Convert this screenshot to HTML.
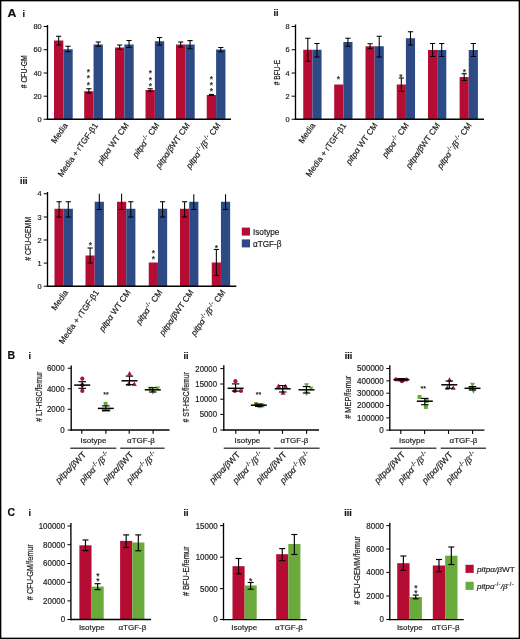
<!DOCTYPE html>
<html><head><meta charset="utf-8"><title>Figure</title>
<style>
html,body{margin:0;padding:0;background:#fff;}
body{width:520px;height:639px;overflow:hidden;font-family:"Liberation Sans",sans-serif;}
svg{display:block;font-family:"Liberation Sans",sans-serif;will-change:transform;}
</style></head><body>
<svg width="520" height="639" viewBox="0 0 520 639">
<rect x="0" y="0" width="520" height="639" fill="#fff"/>
<rect x="54" y="40.5" width="9.35" height="78.75" fill="#b50c34"/>
<rect x="63.35" y="49.25" width="9.35" height="70" fill="#2d4a86"/>
<line x1="58.67" y1="36.25" x2="58.67" y2="45" stroke="#000" stroke-width="1.05"/>
<line x1="56.07" y1="36.25" x2="61.27" y2="36.25" stroke="#000" stroke-width="1.05"/>
<line x1="56.07" y1="45" x2="61.27" y2="45" stroke="#000" stroke-width="1.05"/>
<line x1="68.03" y1="46.25" x2="68.03" y2="51.75" stroke="#000" stroke-width="1.05"/>
<line x1="65.43" y1="46.25" x2="70.62" y2="46.25" stroke="#000" stroke-width="1.05"/>
<line x1="65.43" y1="51.75" x2="70.62" y2="51.75" stroke="#000" stroke-width="1.05"/>
<rect x="84.2" y="91.25" width="9.35" height="28" fill="#b50c34"/>
<rect x="93.55" y="44.5" width="9.35" height="74.75" fill="#2d4a86"/>
<line x1="88.88" y1="88.75" x2="88.88" y2="93" stroke="#000" stroke-width="1.05"/>
<line x1="86.28" y1="88.75" x2="91.47" y2="88.75" stroke="#000" stroke-width="1.05"/>
<line x1="86.28" y1="93" x2="91.47" y2="93" stroke="#000" stroke-width="1.05"/>
<line x1="98.22" y1="42" x2="98.22" y2="46.25" stroke="#000" stroke-width="1.05"/>
<line x1="95.62" y1="42" x2="100.82" y2="42" stroke="#000" stroke-width="1.05"/>
<line x1="95.62" y1="46.25" x2="100.82" y2="46.25" stroke="#000" stroke-width="1.05"/>
<rect x="115" y="47.5" width="9.35" height="71.75" fill="#b50c34"/>
<rect x="124.35" y="44.5" width="9.35" height="74.75" fill="#2d4a86"/>
<line x1="119.67" y1="45" x2="119.67" y2="49.25" stroke="#000" stroke-width="1.05"/>
<line x1="117.08" y1="45" x2="122.27" y2="45" stroke="#000" stroke-width="1.05"/>
<line x1="117.08" y1="49.25" x2="122.27" y2="49.25" stroke="#000" stroke-width="1.05"/>
<line x1="129.03" y1="40.5" x2="129.03" y2="47.5" stroke="#000" stroke-width="1.05"/>
<line x1="126.43" y1="40.5" x2="131.62" y2="40.5" stroke="#000" stroke-width="1.05"/>
<line x1="126.43" y1="47.5" x2="131.62" y2="47.5" stroke="#000" stroke-width="1.05"/>
<rect x="145.5" y="90" width="9.35" height="29.25" fill="#b50c34"/>
<rect x="154.85" y="41.25" width="9.35" height="78" fill="#2d4a86"/>
<line x1="150.18" y1="88.75" x2="150.18" y2="91.25" stroke="#000" stroke-width="1.05"/>
<line x1="147.58" y1="88.75" x2="152.78" y2="88.75" stroke="#000" stroke-width="1.05"/>
<line x1="147.58" y1="91.25" x2="152.78" y2="91.25" stroke="#000" stroke-width="1.05"/>
<line x1="159.53" y1="37.5" x2="159.53" y2="45" stroke="#000" stroke-width="1.05"/>
<line x1="156.93" y1="37.5" x2="162.12" y2="37.5" stroke="#000" stroke-width="1.05"/>
<line x1="156.93" y1="45" x2="162.12" y2="45" stroke="#000" stroke-width="1.05"/>
<rect x="176" y="44.5" width="9.35" height="74.75" fill="#b50c34"/>
<rect x="185.35" y="44.5" width="9.35" height="74.75" fill="#2d4a86"/>
<line x1="180.68" y1="42" x2="180.68" y2="47" stroke="#000" stroke-width="1.05"/>
<line x1="178.08" y1="42" x2="183.28" y2="42" stroke="#000" stroke-width="1.05"/>
<line x1="178.08" y1="47" x2="183.28" y2="47" stroke="#000" stroke-width="1.05"/>
<line x1="190.03" y1="40.6" x2="190.03" y2="48.75" stroke="#000" stroke-width="1.05"/>
<line x1="187.43" y1="40.6" x2="192.62" y2="40.6" stroke="#000" stroke-width="1.05"/>
<line x1="187.43" y1="48.75" x2="192.62" y2="48.75" stroke="#000" stroke-width="1.05"/>
<rect x="206.75" y="95" width="9.35" height="24.25" fill="#b50c34"/>
<rect x="216.1" y="49.5" width="9.35" height="69.75" fill="#2d4a86"/>
<line x1="211.43" y1="94.4" x2="211.43" y2="95.4" stroke="#000" stroke-width="1.05"/>
<line x1="208.83" y1="94.4" x2="214.03" y2="94.4" stroke="#000" stroke-width="1.05"/>
<line x1="208.83" y1="95.4" x2="214.03" y2="95.4" stroke="#000" stroke-width="1.05"/>
<line x1="220.78" y1="47.5" x2="220.78" y2="51.75" stroke="#000" stroke-width="1.05"/>
<line x1="218.18" y1="47.5" x2="223.38" y2="47.5" stroke="#000" stroke-width="1.05"/>
<line x1="218.18" y1="51.75" x2="223.38" y2="51.75" stroke="#000" stroke-width="1.05"/>
<line x1="47.5" y1="25" x2="47.5" y2="119.9" stroke="#000" stroke-width="1.35"/>
<line x1="46.85" y1="119.25" x2="231" y2="119.25" stroke="#000" stroke-width="1.35"/>
<line x1="43.7" y1="26.5" x2="47.5" y2="26.5" stroke="#000" stroke-width="1.0"/>
<text x="41.7" y="29.16" font-size="7.4" text-anchor="end" fill="#1c1c1c" stroke="#1c1c1c" stroke-width="0.18">80</text>
<line x1="43.7" y1="49.75" x2="47.5" y2="49.75" stroke="#000" stroke-width="1.0"/>
<text x="41.7" y="52.41" font-size="7.4" text-anchor="end" fill="#1c1c1c" stroke="#1c1c1c" stroke-width="0.18">60</text>
<line x1="43.7" y1="73" x2="47.5" y2="73" stroke="#000" stroke-width="1.0"/>
<text x="41.7" y="75.66" font-size="7.4" text-anchor="end" fill="#1c1c1c" stroke="#1c1c1c" stroke-width="0.18">40</text>
<line x1="43.7" y1="96.2" x2="47.5" y2="96.2" stroke="#000" stroke-width="1.0"/>
<text x="41.7" y="98.86" font-size="7.4" text-anchor="end" fill="#1c1c1c" stroke="#1c1c1c" stroke-width="0.18">20</text>
<line x1="43.7" y1="119.25" x2="47.5" y2="119.25" stroke="#000" stroke-width="1.0"/>
<text x="41.7" y="121.91" font-size="7.4" text-anchor="end" fill="#1c1c1c" stroke="#1c1c1c" stroke-width="0.18">0</text>
<text transform="translate(26.6 71.8) rotate(-90)" font-size="8.6" text-anchor="middle" fill="#1c1c1c" stroke="#1c1c1c" stroke-width="0.18" textLength="33" lengthAdjust="spacingAndGlyphs"># CFU-GM</text>
<text x="88.5" y="74.6" font-size="8.5" text-anchor="middle" fill="#222" stroke="#222" stroke-width="0.18">*</text>
<text x="88.5" y="81.35" font-size="8.5" text-anchor="middle" fill="#222" stroke="#222" stroke-width="0.18">*</text>
<text x="88.5" y="87.6" font-size="8.5" text-anchor="middle" fill="#222" stroke="#222" stroke-width="0.18">*</text>
<text x="150.3" y="76.1" font-size="8.5" text-anchor="middle" fill="#222" stroke="#222" stroke-width="0.18">*</text>
<text x="150.3" y="82.6" font-size="8.5" text-anchor="middle" fill="#222" stroke="#222" stroke-width="0.18">*</text>
<text x="150.3" y="89.1" font-size="8.5" text-anchor="middle" fill="#222" stroke="#222" stroke-width="0.18">*</text>
<text x="211.3" y="82.1" font-size="8.5" text-anchor="middle" fill="#222" stroke="#222" stroke-width="0.18">*</text>
<text x="211.3" y="88.1" font-size="8.5" text-anchor="middle" fill="#222" stroke="#222" stroke-width="0.18">*</text>
<text x="211.3" y="94.1" font-size="8.5" text-anchor="middle" fill="#222" stroke="#222" stroke-width="0.18">*</text>
<text transform="translate(68.15 125.45) rotate(-55)" font-size="8.3" text-anchor="end" fill="#1c1c1c" stroke="#1c1c1c" stroke-width="0.18">Media</text>
<text transform="translate(98.35 125.45) rotate(-55)" font-size="8.3" text-anchor="end" fill="#1c1c1c" stroke="#1c1c1c" stroke-width="0.18">Media + rTGF-&#946;1</text>
<text transform="translate(129.15 125.45) rotate(-55)" font-size="8.3" text-anchor="end" fill="#1c1c1c" stroke="#1c1c1c" stroke-width="0.18"><tspan font-style="italic">pitp&#945;</tspan> WT CM</text>
<text transform="translate(159.65 125.45) rotate(-55)" font-size="8.3" text-anchor="end" fill="#1c1c1c" stroke="#1c1c1c" stroke-width="0.18"><tspan font-style="italic">pitp&#945;</tspan><tspan dx="0.8"></tspan><tspan font-size="5.98" dy="-3.32" letter-spacing="0.3">-/-</tspan><tspan dy="3.32"> CM</tspan></text>
<text transform="translate(190.15 125.45) rotate(-55)" font-size="8.3" text-anchor="end" fill="#1c1c1c" stroke="#1c1c1c" stroke-width="0.18"><tspan font-style="italic">pitp&#945;/&#946;</tspan>WT CM</text>
<text transform="translate(220.9 125.45) rotate(-55)" font-size="8.3" text-anchor="end" fill="#1c1c1c" stroke="#1c1c1c" stroke-width="0.18"><tspan font-style="italic">pitp&#945;</tspan><tspan font-size="5.98" dy="-3.32" letter-spacing="0.3">-/-</tspan><tspan dy="3.32" font-style="italic">/&#946;</tspan><tspan font-size="5.98" dy="-3.32" letter-spacing="0.3">-/-</tspan><tspan dy="3.32"> CM</tspan></text>
<text transform="translate(7.4 16.7) scale(1.17 1)" font-size="10.5" text-anchor="start" font-weight="bold" fill="#111" stroke="#111" stroke-width="0.18">A</text>
<text x="22.6" y="16.7" font-size="9" text-anchor="start" font-weight="bold" fill="#111" stroke="#111" stroke-width="0.18">i</text>
<rect x="303.25" y="49.75" width="9.15" height="69.5" fill="#b50c34"/>
<rect x="312.4" y="49.75" width="9.15" height="69.5" fill="#2d4a86"/>
<line x1="307.82" y1="38.25" x2="307.82" y2="61.25" stroke="#000" stroke-width="1.05"/>
<line x1="305.22" y1="38.25" x2="310.43" y2="38.25" stroke="#000" stroke-width="1.05"/>
<line x1="305.22" y1="61.25" x2="310.43" y2="61.25" stroke="#000" stroke-width="1.05"/>
<line x1="316.97" y1="43.5" x2="316.97" y2="57" stroke="#000" stroke-width="1.05"/>
<line x1="314.37" y1="43.5" x2="319.57" y2="43.5" stroke="#000" stroke-width="1.05"/>
<line x1="314.37" y1="57" x2="319.57" y2="57" stroke="#000" stroke-width="1.05"/>
<rect x="334.2" y="84.5" width="9.15" height="34.75" fill="#b50c34"/>
<rect x="343.35" y="42" width="9.15" height="77.25" fill="#2d4a86"/>
<line x1="347.92" y1="38.25" x2="347.92" y2="46.25" stroke="#000" stroke-width="1.05"/>
<line x1="345.32" y1="38.25" x2="350.52" y2="38.25" stroke="#000" stroke-width="1.05"/>
<line x1="345.32" y1="46.25" x2="350.52" y2="46.25" stroke="#000" stroke-width="1.05"/>
<rect x="365.5" y="46.25" width="9.15" height="73" fill="#b50c34"/>
<rect x="374.65" y="46.25" width="9.15" height="73" fill="#2d4a86"/>
<line x1="370.07" y1="43.75" x2="370.07" y2="48.75" stroke="#000" stroke-width="1.05"/>
<line x1="367.47" y1="43.75" x2="372.68" y2="43.75" stroke="#000" stroke-width="1.05"/>
<line x1="367.47" y1="48.75" x2="372.68" y2="48.75" stroke="#000" stroke-width="1.05"/>
<line x1="379.22" y1="36.25" x2="379.22" y2="57" stroke="#000" stroke-width="1.05"/>
<line x1="376.62" y1="36.25" x2="381.82" y2="36.25" stroke="#000" stroke-width="1.05"/>
<line x1="376.62" y1="57" x2="381.82" y2="57" stroke="#000" stroke-width="1.05"/>
<rect x="396.75" y="84.5" width="9.15" height="34.75" fill="#b50c34"/>
<rect x="405.9" y="38.25" width="9.15" height="81" fill="#2d4a86"/>
<line x1="401.32" y1="78" x2="401.32" y2="91.25" stroke="#000" stroke-width="1.05"/>
<line x1="398.72" y1="78" x2="403.93" y2="78" stroke="#000" stroke-width="1.05"/>
<line x1="398.72" y1="91.25" x2="403.93" y2="91.25" stroke="#000" stroke-width="1.05"/>
<line x1="410.47" y1="31.75" x2="410.47" y2="45" stroke="#000" stroke-width="1.05"/>
<line x1="407.87" y1="31.75" x2="413.07" y2="31.75" stroke="#000" stroke-width="1.05"/>
<line x1="407.87" y1="45" x2="413.07" y2="45" stroke="#000" stroke-width="1.05"/>
<rect x="428" y="50" width="9.15" height="69.25" fill="#b50c34"/>
<rect x="437.15" y="50" width="9.15" height="69.25" fill="#2d4a86"/>
<line x1="432.57" y1="43.5" x2="432.57" y2="56.5" stroke="#000" stroke-width="1.05"/>
<line x1="429.97" y1="43.5" x2="435.18" y2="43.5" stroke="#000" stroke-width="1.05"/>
<line x1="429.97" y1="56.5" x2="435.18" y2="56.5" stroke="#000" stroke-width="1.05"/>
<line x1="441.72" y1="43.5" x2="441.72" y2="56.5" stroke="#000" stroke-width="1.05"/>
<line x1="439.12" y1="43.5" x2="444.32" y2="43.5" stroke="#000" stroke-width="1.05"/>
<line x1="439.12" y1="56.5" x2="444.32" y2="56.5" stroke="#000" stroke-width="1.05"/>
<rect x="459.6" y="77" width="9.15" height="42.25" fill="#b50c34"/>
<rect x="468.75" y="50" width="9.15" height="69.25" fill="#2d4a86"/>
<line x1="464.18" y1="73.75" x2="464.18" y2="80.5" stroke="#000" stroke-width="1.05"/>
<line x1="461.57" y1="73.75" x2="466.78" y2="73.75" stroke="#000" stroke-width="1.05"/>
<line x1="461.57" y1="80.5" x2="466.78" y2="80.5" stroke="#000" stroke-width="1.05"/>
<line x1="473.32" y1="43.5" x2="473.32" y2="56.5" stroke="#000" stroke-width="1.05"/>
<line x1="470.72" y1="43.5" x2="475.93" y2="43.5" stroke="#000" stroke-width="1.05"/>
<line x1="470.72" y1="56.5" x2="475.93" y2="56.5" stroke="#000" stroke-width="1.05"/>
<line x1="295.5" y1="24.5" x2="295.5" y2="119.9" stroke="#000" stroke-width="1.35"/>
<line x1="294.85" y1="119.25" x2="484" y2="119.25" stroke="#000" stroke-width="1.35"/>
<line x1="291.7" y1="26.5" x2="295.5" y2="26.5" stroke="#000" stroke-width="1.0"/>
<text x="289.7" y="29.16" font-size="7.4" text-anchor="end" fill="#1c1c1c" stroke="#1c1c1c" stroke-width="0.18">8</text>
<line x1="291.7" y1="49.75" x2="295.5" y2="49.75" stroke="#000" stroke-width="1.0"/>
<text x="289.7" y="52.41" font-size="7.4" text-anchor="end" fill="#1c1c1c" stroke="#1c1c1c" stroke-width="0.18">6</text>
<line x1="291.7" y1="73" x2="295.5" y2="73" stroke="#000" stroke-width="1.0"/>
<text x="289.7" y="75.66" font-size="7.4" text-anchor="end" fill="#1c1c1c" stroke="#1c1c1c" stroke-width="0.18">4</text>
<line x1="291.7" y1="96.2" x2="295.5" y2="96.2" stroke="#000" stroke-width="1.0"/>
<text x="289.7" y="98.86" font-size="7.4" text-anchor="end" fill="#1c1c1c" stroke="#1c1c1c" stroke-width="0.18">2</text>
<line x1="291.7" y1="119.25" x2="295.5" y2="119.25" stroke="#000" stroke-width="1.0"/>
<text x="289.7" y="121.91" font-size="7.4" text-anchor="end" fill="#1c1c1c" stroke="#1c1c1c" stroke-width="0.18">0</text>
<text transform="translate(280 72.5) rotate(-90)" font-size="8.6" text-anchor="middle" fill="#1c1c1c" stroke="#1c1c1c" stroke-width="0.18" textLength="25.5" lengthAdjust="spacingAndGlyphs"># BFU-E</text>
<text x="338.5" y="82.1" font-size="8.5" text-anchor="middle" fill="#222" stroke="#222" stroke-width="0.18">*</text>
<text x="401" y="79.6" font-size="8.5" text-anchor="middle" fill="#222" stroke="#222" stroke-width="0.18">*</text>
<text x="464.3" y="75.1" font-size="8.5" text-anchor="middle" fill="#222" stroke="#222" stroke-width="0.18">*</text>
<text transform="translate(315.6 125.45) rotate(-55)" font-size="8.3" text-anchor="end" fill="#1c1c1c" stroke="#1c1c1c" stroke-width="0.18">Media</text>
<text transform="translate(346.55 125.45) rotate(-55)" font-size="8.3" text-anchor="end" fill="#1c1c1c" stroke="#1c1c1c" stroke-width="0.18">Media + rTGF-&#946;1</text>
<text transform="translate(377.85 125.45) rotate(-55)" font-size="8.3" text-anchor="end" fill="#1c1c1c" stroke="#1c1c1c" stroke-width="0.18"><tspan font-style="italic">pitp&#945;</tspan> WT CM</text>
<text transform="translate(409.1 125.45) rotate(-55)" font-size="8.3" text-anchor="end" fill="#1c1c1c" stroke="#1c1c1c" stroke-width="0.18"><tspan font-style="italic">pitp&#945;</tspan><tspan dx="0.8"></tspan><tspan font-size="5.98" dy="-3.32" letter-spacing="0.3">-/-</tspan><tspan dy="3.32"> CM</tspan></text>
<text transform="translate(440.35 125.45) rotate(-55)" font-size="8.3" text-anchor="end" fill="#1c1c1c" stroke="#1c1c1c" stroke-width="0.18"><tspan font-style="italic">pitp&#945;/&#946;</tspan>WT CM</text>
<text transform="translate(471.95 125.45) rotate(-55)" font-size="8.3" text-anchor="end" fill="#1c1c1c" stroke="#1c1c1c" stroke-width="0.18"><tspan font-style="italic">pitp&#945;</tspan><tspan font-size="5.98" dy="-3.32" letter-spacing="0.3">-/-</tspan><tspan dy="3.32" font-style="italic">/&#946;</tspan><tspan font-size="5.98" dy="-3.32" letter-spacing="0.3">-/-</tspan><tspan dy="3.32"> CM</tspan></text>
<text x="273.5" y="15.8" font-size="9" text-anchor="start" font-weight="bold" fill="#111" stroke="#111" stroke-width="0.18">ii</text>
<rect x="54.5" y="208.75" width="9.2" height="77.5" fill="#b50c34"/>
<rect x="63.7" y="208.75" width="9.2" height="77.5" fill="#2d4a86"/>
<line x1="59.1" y1="201.75" x2="59.1" y2="217" stroke="#000" stroke-width="1.05"/>
<line x1="56.5" y1="201.75" x2="61.7" y2="201.75" stroke="#000" stroke-width="1.05"/>
<line x1="56.5" y1="217" x2="61.7" y2="217" stroke="#000" stroke-width="1.05"/>
<line x1="68.3" y1="201.75" x2="68.3" y2="217" stroke="#000" stroke-width="1.05"/>
<line x1="65.7" y1="201.75" x2="70.9" y2="201.75" stroke="#000" stroke-width="1.05"/>
<line x1="65.7" y1="217" x2="70.9" y2="217" stroke="#000" stroke-width="1.05"/>
<rect x="85.5" y="255.5" width="9.2" height="30.75" fill="#b50c34"/>
<rect x="94.7" y="201.75" width="9.2" height="84.5" fill="#2d4a86"/>
<line x1="90.1" y1="248" x2="90.1" y2="263" stroke="#000" stroke-width="1.05"/>
<line x1="87.5" y1="248" x2="92.7" y2="248" stroke="#000" stroke-width="1.05"/>
<line x1="87.5" y1="263" x2="92.7" y2="263" stroke="#000" stroke-width="1.05"/>
<line x1="99.3" y1="193.75" x2="99.3" y2="209.5" stroke="#000" stroke-width="1.05"/>
<line x1="96.7" y1="209.5" x2="101.9" y2="209.5" stroke="#000" stroke-width="1.05"/>
<rect x="117" y="201.75" width="9.2" height="84.5" fill="#b50c34"/>
<rect x="126.2" y="208.75" width="9.2" height="77.5" fill="#2d4a86"/>
<line x1="121.6" y1="193.75" x2="121.6" y2="209.5" stroke="#000" stroke-width="1.05"/>
<line x1="119" y1="209.5" x2="124.2" y2="209.5" stroke="#000" stroke-width="1.05"/>
<line x1="130.8" y1="201.75" x2="130.8" y2="217" stroke="#000" stroke-width="1.05"/>
<line x1="128.2" y1="201.75" x2="133.4" y2="201.75" stroke="#000" stroke-width="1.05"/>
<line x1="128.2" y1="217" x2="133.4" y2="217" stroke="#000" stroke-width="1.05"/>
<rect x="148.75" y="262.5" width="9.2" height="23.75" fill="#b50c34"/>
<rect x="157.95" y="208.75" width="9.2" height="77.5" fill="#2d4a86"/>
<line x1="162.55" y1="201.75" x2="162.55" y2="217" stroke="#000" stroke-width="1.05"/>
<line x1="159.95" y1="201.75" x2="165.15" y2="201.75" stroke="#000" stroke-width="1.05"/>
<line x1="159.95" y1="217" x2="165.15" y2="217" stroke="#000" stroke-width="1.05"/>
<rect x="180" y="208.75" width="9.2" height="77.5" fill="#b50c34"/>
<rect x="189.2" y="201.75" width="9.2" height="84.5" fill="#2d4a86"/>
<line x1="184.6" y1="201.75" x2="184.6" y2="217" stroke="#000" stroke-width="1.05"/>
<line x1="182" y1="201.75" x2="187.2" y2="201.75" stroke="#000" stroke-width="1.05"/>
<line x1="182" y1="217" x2="187.2" y2="217" stroke="#000" stroke-width="1.05"/>
<line x1="193.8" y1="194.25" x2="193.8" y2="209.5" stroke="#000" stroke-width="1.05"/>
<line x1="191.2" y1="209.5" x2="196.4" y2="209.5" stroke="#000" stroke-width="1.05"/>
<rect x="211.75" y="262.5" width="9.2" height="23.75" fill="#b50c34"/>
<rect x="220.95" y="201.75" width="9.2" height="84.5" fill="#2d4a86"/>
<line x1="216.35" y1="249.5" x2="216.35" y2="275.5" stroke="#000" stroke-width="1.05"/>
<line x1="213.75" y1="249.5" x2="218.95" y2="249.5" stroke="#000" stroke-width="1.05"/>
<line x1="213.75" y1="275.5" x2="218.95" y2="275.5" stroke="#000" stroke-width="1.05"/>
<line x1="225.55" y1="194.25" x2="225.55" y2="209.5" stroke="#000" stroke-width="1.05"/>
<line x1="222.95" y1="209.5" x2="228.15" y2="209.5" stroke="#000" stroke-width="1.05"/>
<line x1="47.5" y1="192" x2="47.5" y2="286.9" stroke="#000" stroke-width="1.35"/>
<line x1="46.85" y1="286.25" x2="236.3" y2="286.25" stroke="#000" stroke-width="1.35"/>
<line x1="43.7" y1="193.75" x2="47.5" y2="193.75" stroke="#000" stroke-width="1.0"/>
<text x="41.7" y="196.41" font-size="7.4" text-anchor="end" fill="#1c1c1c" stroke="#1c1c1c" stroke-width="0.18">4</text>
<line x1="43.7" y1="217" x2="47.5" y2="217" stroke="#000" stroke-width="1.0"/>
<text x="41.7" y="219.66" font-size="7.4" text-anchor="end" fill="#1c1c1c" stroke="#1c1c1c" stroke-width="0.18">3</text>
<line x1="43.7" y1="240" x2="47.5" y2="240" stroke="#000" stroke-width="1.0"/>
<text x="41.7" y="242.66" font-size="7.4" text-anchor="end" fill="#1c1c1c" stroke="#1c1c1c" stroke-width="0.18">2</text>
<line x1="43.7" y1="263.1" x2="47.5" y2="263.1" stroke="#000" stroke-width="1.0"/>
<text x="41.7" y="265.76" font-size="7.4" text-anchor="end" fill="#1c1c1c" stroke="#1c1c1c" stroke-width="0.18">1</text>
<line x1="43.7" y1="286.25" x2="47.5" y2="286.25" stroke="#000" stroke-width="1.0"/>
<text x="41.7" y="288.91" font-size="7.4" text-anchor="end" fill="#1c1c1c" stroke="#1c1c1c" stroke-width="0.18">0</text>
<text transform="translate(31.2 238.8) rotate(-90)" font-size="8.9" text-anchor="middle" fill="#1c1c1c" stroke="#1c1c1c" stroke-width="0.18" textLength="44" lengthAdjust="spacingAndGlyphs"># CFU-GEMM</text>
<text x="90.5" y="247.6" font-size="8.5" text-anchor="middle" fill="#222" stroke="#222" stroke-width="0.18">*</text>
<text x="153.3" y="255.85" font-size="8.5" text-anchor="middle" fill="#222" stroke="#222" stroke-width="0.18">*</text>
<text x="153.3" y="262.1" font-size="8.5" text-anchor="middle" fill="#222" stroke="#222" stroke-width="0.18">*</text>
<text x="216.5" y="250.6" font-size="8.5" text-anchor="middle" fill="#222" stroke="#222" stroke-width="0.18">*</text>
<text transform="translate(68.5 292.45) rotate(-55)" font-size="8.3" text-anchor="end" fill="#1c1c1c" stroke="#1c1c1c" stroke-width="0.18">Media</text>
<text transform="translate(99.5 292.45) rotate(-55)" font-size="8.3" text-anchor="end" fill="#1c1c1c" stroke="#1c1c1c" stroke-width="0.18">Media + rTGF-&#946;1</text>
<text transform="translate(131 292.45) rotate(-55)" font-size="8.3" text-anchor="end" fill="#1c1c1c" stroke="#1c1c1c" stroke-width="0.18"><tspan font-style="italic">pitp&#945;</tspan> WT CM</text>
<text transform="translate(162.75 292.45) rotate(-55)" font-size="8.3" text-anchor="end" fill="#1c1c1c" stroke="#1c1c1c" stroke-width="0.18"><tspan font-style="italic">pitp&#945;</tspan><tspan dx="0.8"></tspan><tspan font-size="5.98" dy="-3.32" letter-spacing="0.3">-/-</tspan><tspan dy="3.32"> CM</tspan></text>
<text transform="translate(194 292.45) rotate(-55)" font-size="8.3" text-anchor="end" fill="#1c1c1c" stroke="#1c1c1c" stroke-width="0.18"><tspan font-style="italic">pitp&#945;/&#946;</tspan>WT CM</text>
<text transform="translate(225.75 292.45) rotate(-55)" font-size="8.3" text-anchor="end" fill="#1c1c1c" stroke="#1c1c1c" stroke-width="0.18"><tspan font-style="italic">pitp&#945;</tspan><tspan font-size="5.98" dy="-3.32" letter-spacing="0.3">-/-</tspan><tspan dy="3.32" font-style="italic">/&#946;</tspan><tspan font-size="5.98" dy="-3.32" letter-spacing="0.3">-/-</tspan><tspan dy="3.32"> CM</tspan></text>
<text x="20" y="183.8" font-size="9" text-anchor="start" font-weight="bold" fill="#111" stroke="#111" stroke-width="0.18">iii</text>
<rect x="241.8" y="227.6" width="8.2" height="8" fill="#b50c34"/>
<rect x="241.8" y="239.4" width="8.2" height="8" fill="#2d4a86"/>
<text x="253" y="234.6" font-size="8.2" text-anchor="start" fill="#1c1c1c" stroke="#1c1c1c" stroke-width="0.18">Isotype</text>
<text x="253" y="246.5" font-size="8.2" text-anchor="start" fill="#1c1c1c" stroke="#1c1c1c" stroke-width="0.18">&#945;TGF-&#946;</text>
<line x1="71.2" y1="365.5" x2="71.2" y2="430.65" stroke="#000" stroke-width="1.35"/>
<line x1="70.55" y1="430" x2="169.5" y2="430" stroke="#000" stroke-width="1.35"/>
<line x1="67.7" y1="368.25" x2="71.2" y2="368.25" stroke="#000" stroke-width="1.0"/>
<text transform="translate(64.6 371.24) scale(0.96 1)" font-size="8.3" text-anchor="end" fill="#1c1c1c" stroke="#1c1c1c" stroke-width="0.18">6000</text>
<line x1="67.7" y1="388.75" x2="71.2" y2="388.75" stroke="#000" stroke-width="1.0"/>
<text transform="translate(64.6 391.74) scale(0.96 1)" font-size="8.3" text-anchor="end" fill="#1c1c1c" stroke="#1c1c1c" stroke-width="0.18">4000</text>
<line x1="67.7" y1="409.3" x2="71.2" y2="409.3" stroke="#000" stroke-width="1.0"/>
<text transform="translate(64.6 412.29) scale(0.96 1)" font-size="8.3" text-anchor="end" fill="#1c1c1c" stroke="#1c1c1c" stroke-width="0.18">2000</text>
<line x1="67.7" y1="430" x2="71.2" y2="430" stroke="#000" stroke-width="1.0"/>
<text transform="translate(64.6 432.99) scale(0.96 1)" font-size="8.3" text-anchor="end" fill="#1c1c1c" stroke="#1c1c1c" stroke-width="0.18">0</text>
<line x1="81.8" y1="430" x2="81.8" y2="433.8" stroke="#000" stroke-width="1.1"/>
<line x1="105.9" y1="430" x2="105.9" y2="433.8" stroke="#000" stroke-width="1.1"/>
<line x1="129.2" y1="430" x2="129.2" y2="433.8" stroke="#000" stroke-width="1.1"/>
<line x1="153.1" y1="430" x2="153.1" y2="433.8" stroke="#000" stroke-width="1.1"/>
<text x="93.5" y="443.3" font-size="8" text-anchor="middle" fill="#1c1c1c" stroke="#1c1c1c" stroke-width="0.18">Isotype</text>
<text x="141" y="443.3" font-size="8" text-anchor="middle" fill="#1c1c1c" stroke="#1c1c1c" stroke-width="0.18">&#945;TGF-&#946;</text>
<line x1="70.3" y1="448.2" x2="116.3" y2="448.2" stroke="#4a4a4a" stroke-width="1.4"/>
<line x1="120.2" y1="448.2" x2="164.6" y2="448.2" stroke="#4a4a4a" stroke-width="1.4"/>
<text transform="translate(86.6 455.2) rotate(-46)" font-size="8.7" text-anchor="end" fill="#1c1c1c" stroke="#1c1c1c" stroke-width="0.18"><tspan font-style="italic">pitp&#945;/&#946;</tspan>WT</text>
<text transform="translate(110.7 455.2) rotate(-46)" font-size="8.7" text-anchor="end" fill="#1c1c1c" stroke="#1c1c1c" stroke-width="0.18"><tspan font-style="italic">pitp&#945;</tspan><tspan font-size="6.26" dy="-3.48" letter-spacing="0.3">-/-</tspan><tspan dy="3.48" font-style="italic">/&#946;</tspan><tspan font-size="6.26" dy="-3.48" letter-spacing="0.3">-/-</tspan></text>
<text transform="translate(134 455.2) rotate(-46)" font-size="8.7" text-anchor="end" fill="#1c1c1c" stroke="#1c1c1c" stroke-width="0.18"><tspan font-style="italic">pitp&#945;/&#946;</tspan>WT</text>
<text transform="translate(157.9 455.2) rotate(-46)" font-size="8.7" text-anchor="end" fill="#1c1c1c" stroke="#1c1c1c" stroke-width="0.18"><tspan font-style="italic">pitp&#945;</tspan><tspan font-size="6.26" dy="-3.48" letter-spacing="0.3">-/-</tspan><tspan dy="3.48" font-style="italic">/&#946;</tspan><tspan font-size="6.26" dy="-3.48" letter-spacing="0.3">-/-</tspan></text>
<text transform="translate(41.8 396.7) rotate(-90)" font-size="8.5" text-anchor="middle" fill="#1c1c1c" stroke="#1c1c1c" stroke-width="0.18" textLength="50" lengthAdjust="spacingAndGlyphs"># LT-HSC/femur</text>
<circle cx="82.3" cy="378.7" r="2.1" fill="#a3164a"/>
<circle cx="82.3" cy="385.1" r="2.1" fill="#a3164a"/>
<circle cx="82.3" cy="390.9" r="2.1" fill="#a3164a"/>
<line x1="74.2" y1="385.1" x2="90.2" y2="385.1" stroke="#000" stroke-width="1.5"/>
<line x1="82.2" y1="381.7" x2="82.2" y2="388.3" stroke="#000" stroke-width="1.15"/>
<line x1="78.45" y1="381.7" x2="85.95" y2="381.7" stroke="#000" stroke-width="1.15"/>
<line x1="78.45" y1="388.3" x2="85.95" y2="388.3" stroke="#000" stroke-width="1.15"/>
<rect x="103.65" y="401.85" width="3.9" height="3.9" fill="#69aa3b"/>
<rect x="101.85" y="407.85" width="3.9" height="3.9" fill="#69aa3b"/>
<rect x="106.45" y="407.85" width="3.9" height="3.9" fill="#69aa3b"/>
<line x1="97.8" y1="408.4" x2="113.8" y2="408.4" stroke="#000" stroke-width="1.5"/>
<line x1="105.8" y1="405.9" x2="105.8" y2="410.6" stroke="#000" stroke-width="1.15"/>
<line x1="102.05" y1="405.9" x2="109.55" y2="405.9" stroke="#000" stroke-width="1.15"/>
<line x1="102.05" y1="410.6" x2="109.55" y2="410.6" stroke="#000" stroke-width="1.15"/>
<text x="106" y="397" font-size="7" text-anchor="middle" fill="#1c1c1c" stroke="#1c1c1c" stroke-width="0.18">**</text>
<polygon points="129.6,370.9 127.1,375.4 132.1,375.4" fill="#a3164a"/>
<polygon points="128.6,381.6 126.1,386.1 131.1,386.1" fill="#a3164a"/>
<polygon points="134.3,381.6 131.8,386.1 136.8,386.1" fill="#a3164a"/>
<line x1="121.5" y1="380.8" x2="137.5" y2="380.8" stroke="#000" stroke-width="1.5"/>
<line x1="129.5" y1="376.1" x2="129.5" y2="384.5" stroke="#000" stroke-width="1.15"/>
<line x1="125.75" y1="376.1" x2="133.25" y2="376.1" stroke="#000" stroke-width="1.15"/>
<line x1="125.75" y1="384.5" x2="133.25" y2="384.5" stroke="#000" stroke-width="1.15"/>
<polygon points="149.9,391.3 147.4,386.8 152.4,386.8" fill="#69aa3b"/>
<polygon points="157.6,390.9 155.1,386.4 160.1,386.4" fill="#69aa3b"/>
<polygon points="152.9,394.7 150.4,390.2 155.4,390.2" fill="#69aa3b"/>
<line x1="144.8" y1="389.8" x2="160.8" y2="389.8" stroke="#000" stroke-width="1.5"/>
<line x1="152.8" y1="387.7" x2="152.8" y2="392" stroke="#000" stroke-width="1.15"/>
<line x1="149.05" y1="387.7" x2="156.55" y2="387.7" stroke="#000" stroke-width="1.15"/>
<line x1="149.05" y1="392" x2="156.55" y2="392" stroke="#000" stroke-width="1.15"/>
<text x="7.5" y="358.8" font-size="10.5" text-anchor="start" font-weight="bold" fill="#111" stroke="#111" stroke-width="0.18">B</text>
<text x="28.5" y="358.8" font-size="9" text-anchor="start" font-weight="bold" fill="#111" stroke="#111" stroke-width="0.18">i</text>
<line x1="223.8" y1="365.3" x2="223.8" y2="430.65" stroke="#000" stroke-width="1.35"/>
<line x1="223.15" y1="430" x2="319" y2="430" stroke="#000" stroke-width="1.35"/>
<line x1="220.3" y1="368.6" x2="223.8" y2="368.6" stroke="#000" stroke-width="1.0"/>
<text transform="translate(217 371.59) scale(0.94 1)" font-size="8.3" text-anchor="end" fill="#1c1c1c" stroke="#1c1c1c" stroke-width="0.18">20000</text>
<line x1="220.3" y1="384" x2="223.8" y2="384" stroke="#000" stroke-width="1.0"/>
<text transform="translate(217 386.99) scale(0.94 1)" font-size="8.3" text-anchor="end" fill="#1c1c1c" stroke="#1c1c1c" stroke-width="0.18">15000</text>
<line x1="220.3" y1="399.2" x2="223.8" y2="399.2" stroke="#000" stroke-width="1.0"/>
<text transform="translate(217 402.19) scale(0.94 1)" font-size="8.3" text-anchor="end" fill="#1c1c1c" stroke="#1c1c1c" stroke-width="0.18">10000</text>
<line x1="220.3" y1="414.4" x2="223.8" y2="414.4" stroke="#000" stroke-width="1.0"/>
<text transform="translate(217 417.39) scale(0.94 1)" font-size="8.3" text-anchor="end" fill="#1c1c1c" stroke="#1c1c1c" stroke-width="0.18">5000</text>
<line x1="220.3" y1="430" x2="223.8" y2="430" stroke="#000" stroke-width="1.0"/>
<text transform="translate(217 432.99) scale(0.94 1)" font-size="8.3" text-anchor="end" fill="#1c1c1c" stroke="#1c1c1c" stroke-width="0.18">0</text>
<line x1="235.8" y1="430" x2="235.8" y2="433.8" stroke="#000" stroke-width="1.1"/>
<line x1="259.3" y1="430" x2="259.3" y2="433.8" stroke="#000" stroke-width="1.1"/>
<line x1="282.5" y1="430" x2="282.5" y2="433.8" stroke="#000" stroke-width="1.1"/>
<line x1="306.6" y1="430" x2="306.6" y2="433.8" stroke="#000" stroke-width="1.1"/>
<text x="247.4" y="443.3" font-size="8" text-anchor="middle" fill="#1c1c1c" stroke="#1c1c1c" stroke-width="0.18">Isotype</text>
<text x="294.5" y="443.3" font-size="8" text-anchor="middle" fill="#1c1c1c" stroke="#1c1c1c" stroke-width="0.18">&#945;TGF-&#946;</text>
<line x1="223.7" y1="448.2" x2="270.4" y2="448.2" stroke="#4a4a4a" stroke-width="1.4"/>
<line x1="273.8" y1="448.2" x2="319.6" y2="448.2" stroke="#4a4a4a" stroke-width="1.4"/>
<text transform="translate(240.6 455.2) rotate(-46)" font-size="8.7" text-anchor="end" fill="#1c1c1c" stroke="#1c1c1c" stroke-width="0.18"><tspan font-style="italic">pitp&#945;/&#946;</tspan>WT</text>
<text transform="translate(264.1 455.2) rotate(-46)" font-size="8.7" text-anchor="end" fill="#1c1c1c" stroke="#1c1c1c" stroke-width="0.18"><tspan font-style="italic">pitp&#945;</tspan><tspan font-size="6.26" dy="-3.48" letter-spacing="0.3">-/-</tspan><tspan dy="3.48" font-style="italic">/&#946;</tspan><tspan font-size="6.26" dy="-3.48" letter-spacing="0.3">-/-</tspan></text>
<text transform="translate(287.3 455.2) rotate(-46)" font-size="8.7" text-anchor="end" fill="#1c1c1c" stroke="#1c1c1c" stroke-width="0.18"><tspan font-style="italic">pitp&#945;/&#946;</tspan>WT</text>
<text transform="translate(311.4 455.2) rotate(-46)" font-size="8.7" text-anchor="end" fill="#1c1c1c" stroke="#1c1c1c" stroke-width="0.18"><tspan font-style="italic">pitp&#945;</tspan><tspan font-size="6.26" dy="-3.48" letter-spacing="0.3">-/-</tspan><tspan dy="3.48" font-style="italic">/&#946;</tspan><tspan font-size="6.26" dy="-3.48" letter-spacing="0.3">-/-</tspan></text>
<text transform="translate(188.5 397.3) rotate(-90)" font-size="8.5" text-anchor="middle" fill="#1c1c1c" stroke="#1c1c1c" stroke-width="0.18" textLength="50.5" lengthAdjust="spacingAndGlyphs"># ST-HSC/femur</text>
<circle cx="235.4" cy="381.2" r="2.1" fill="#a3164a"/>
<circle cx="234.8" cy="391" r="2.1" fill="#a3164a"/>
<circle cx="241" cy="391" r="2.1" fill="#a3164a"/>
<line x1="227.6" y1="388.3" x2="243.6" y2="388.3" stroke="#000" stroke-width="1.5"/>
<line x1="235.6" y1="383.9" x2="235.6" y2="391.1" stroke="#000" stroke-width="1.15"/>
<line x1="231.85" y1="383.9" x2="239.35" y2="383.9" stroke="#000" stroke-width="1.15"/>
<line x1="231.85" y1="391.1" x2="239.35" y2="391.1" stroke="#000" stroke-width="1.15"/>
<rect x="254.05" y="402.05" width="3.9" height="3.9" fill="#69aa3b"/>
<rect x="257.55" y="404.25" width="3.9" height="3.9" fill="#69aa3b"/>
<rect x="260.55" y="403.55" width="3.9" height="3.9" fill="#69aa3b"/>
<line x1="250.8" y1="405.2" x2="266.8" y2="405.2" stroke="#000" stroke-width="1.5"/>
<line x1="258.8" y1="404" x2="258.8" y2="406.4" stroke="#000" stroke-width="1.15"/>
<line x1="255.05" y1="404" x2="262.55" y2="404" stroke="#000" stroke-width="1.15"/>
<line x1="255.05" y1="406.4" x2="262.55" y2="406.4" stroke="#000" stroke-width="1.15"/>
<text x="258.6" y="396.8" font-size="7" text-anchor="middle" fill="#1c1c1c" stroke="#1c1c1c" stroke-width="0.18">**</text>
<polygon points="278.5,383.6 276,388.1 281,388.1" fill="#a3164a"/>
<polygon points="285.5,383.8 283,388.3 288,388.3" fill="#a3164a"/>
<polygon points="283,390.3 280.5,394.8 285.5,394.8" fill="#a3164a"/>
<line x1="274.7" y1="388.8" x2="290.7" y2="388.8" stroke="#000" stroke-width="1.5"/>
<line x1="282.7" y1="385.6" x2="282.7" y2="392" stroke="#000" stroke-width="1.15"/>
<line x1="278.95" y1="385.6" x2="286.45" y2="385.6" stroke="#000" stroke-width="1.15"/>
<line x1="278.95" y1="392" x2="286.45" y2="392" stroke="#000" stroke-width="1.15"/>
<polygon points="306.5,387.7 304,383.2 309,383.2" fill="#69aa3b"/>
<polygon points="311,390.9 308.5,386.4 313.5,386.4" fill="#69aa3b"/>
<polygon points="306.5,395.9 304,391.4 309,391.4" fill="#69aa3b"/>
<line x1="298.5" y1="389.8" x2="314.5" y2="389.8" stroke="#000" stroke-width="1.5"/>
<line x1="306.5" y1="386.6" x2="306.5" y2="393" stroke="#000" stroke-width="1.15"/>
<line x1="302.75" y1="386.6" x2="310.25" y2="386.6" stroke="#000" stroke-width="1.15"/>
<line x1="302.75" y1="393" x2="310.25" y2="393" stroke="#000" stroke-width="1.15"/>
<text x="183.5" y="358.8" font-size="9" text-anchor="start" font-weight="bold" fill="#111" stroke="#111" stroke-width="0.18">ii</text>
<line x1="389.8" y1="365.2" x2="389.8" y2="430.75" stroke="#000" stroke-width="1.35"/>
<line x1="389.15" y1="430.1" x2="484.5" y2="430.1" stroke="#000" stroke-width="1.35"/>
<line x1="386.3" y1="368.5" x2="389.8" y2="368.5" stroke="#000" stroke-width="1.0"/>
<text transform="translate(383.8 371.49) scale(0.97 1)" font-size="8.3" text-anchor="end" fill="#1c1c1c" stroke="#1c1c1c" stroke-width="0.18">500000</text>
<line x1="386.3" y1="380.9" x2="389.8" y2="380.9" stroke="#000" stroke-width="1.0"/>
<text transform="translate(383.8 383.89) scale(0.97 1)" font-size="8.3" text-anchor="end" fill="#1c1c1c" stroke="#1c1c1c" stroke-width="0.18">400000</text>
<line x1="386.3" y1="393.2" x2="389.8" y2="393.2" stroke="#000" stroke-width="1.0"/>
<text transform="translate(383.8 396.19) scale(0.97 1)" font-size="8.3" text-anchor="end" fill="#1c1c1c" stroke="#1c1c1c" stroke-width="0.18">300000</text>
<line x1="386.3" y1="405.5" x2="389.8" y2="405.5" stroke="#000" stroke-width="1.0"/>
<text transform="translate(383.8 408.49) scale(0.97 1)" font-size="8.3" text-anchor="end" fill="#1c1c1c" stroke="#1c1c1c" stroke-width="0.18">200000</text>
<line x1="386.3" y1="417.9" x2="389.8" y2="417.9" stroke="#000" stroke-width="1.0"/>
<text transform="translate(383.8 420.89) scale(0.97 1)" font-size="8.3" text-anchor="end" fill="#1c1c1c" stroke="#1c1c1c" stroke-width="0.18">100000</text>
<line x1="386.3" y1="430.1" x2="389.8" y2="430.1" stroke="#000" stroke-width="1.0"/>
<text transform="translate(383.8 433.09) scale(0.97 1)" font-size="8.3" text-anchor="end" fill="#1c1c1c" stroke="#1c1c1c" stroke-width="0.18">0</text>
<line x1="400.8" y1="430.1" x2="400.8" y2="433.9" stroke="#000" stroke-width="1.1"/>
<line x1="424.6" y1="430.1" x2="424.6" y2="433.9" stroke="#000" stroke-width="1.1"/>
<line x1="448.5" y1="430.1" x2="448.5" y2="433.9" stroke="#000" stroke-width="1.1"/>
<line x1="472.6" y1="430.1" x2="472.6" y2="433.9" stroke="#000" stroke-width="1.1"/>
<text x="412" y="443.4" font-size="8" text-anchor="middle" fill="#1c1c1c" stroke="#1c1c1c" stroke-width="0.18">Isotype</text>
<text x="463.5" y="443.4" font-size="8" text-anchor="middle" fill="#1c1c1c" stroke="#1c1c1c" stroke-width="0.18">&#945;TGF-&#946;</text>
<line x1="390.2" y1="448.3" x2="436.4" y2="448.3" stroke="#4a4a4a" stroke-width="1.4"/>
<line x1="440.7" y1="448.3" x2="486" y2="448.3" stroke="#4a4a4a" stroke-width="1.4"/>
<text transform="translate(405.6 455.3) rotate(-46)" font-size="8.7" text-anchor="end" fill="#1c1c1c" stroke="#1c1c1c" stroke-width="0.18"><tspan font-style="italic">pitp&#945;/&#946;</tspan>WT</text>
<text transform="translate(429.4 455.3) rotate(-46)" font-size="8.7" text-anchor="end" fill="#1c1c1c" stroke="#1c1c1c" stroke-width="0.18"><tspan font-style="italic">pitp&#945;</tspan><tspan font-size="6.26" dy="-3.48" letter-spacing="0.3">-/-</tspan><tspan dy="3.48" font-style="italic">/&#946;</tspan><tspan font-size="6.26" dy="-3.48" letter-spacing="0.3">-/-</tspan></text>
<text transform="translate(453.3 455.3) rotate(-46)" font-size="8.7" text-anchor="end" fill="#1c1c1c" stroke="#1c1c1c" stroke-width="0.18"><tspan font-style="italic">pitp&#945;/&#946;</tspan>WT</text>
<text transform="translate(477.4 455.3) rotate(-46)" font-size="8.7" text-anchor="end" fill="#1c1c1c" stroke="#1c1c1c" stroke-width="0.18"><tspan font-style="italic">pitp&#945;</tspan><tspan font-size="6.26" dy="-3.48" letter-spacing="0.3">-/-</tspan><tspan dy="3.48" font-style="italic">/&#946;</tspan><tspan font-size="6.26" dy="-3.48" letter-spacing="0.3">-/-</tspan></text>
<text transform="translate(350.8 397.3) rotate(-90)" font-size="8.5" text-anchor="middle" fill="#1c1c1c" stroke="#1c1c1c" stroke-width="0.18" textLength="43" lengthAdjust="spacingAndGlyphs"># MEP/femur</text>
<circle cx="396" cy="379.4" r="2.1" fill="#a3164a"/>
<circle cx="402" cy="381.2" r="2.1" fill="#a3164a"/>
<circle cx="406.5" cy="379.6" r="2.1" fill="#a3164a"/>
<line x1="393.4" y1="379.7" x2="409.4" y2="379.7" stroke="#000" stroke-width="1.5"/>
<line x1="401.4" y1="378.6" x2="401.4" y2="380.8" stroke="#000" stroke-width="1.15"/>
<line x1="397.65" y1="378.6" x2="405.15" y2="378.6" stroke="#000" stroke-width="1.15"/>
<line x1="397.65" y1="380.8" x2="405.15" y2="380.8" stroke="#000" stroke-width="1.15"/>
<rect x="417.55" y="395.05" width="3.9" height="3.9" fill="#69aa3b"/>
<rect x="424.75" y="399.05" width="3.9" height="3.9" fill="#69aa3b"/>
<rect x="423.95" y="405.05" width="3.9" height="3.9" fill="#69aa3b"/>
<line x1="416.8" y1="401.2" x2="432.8" y2="401.2" stroke="#000" stroke-width="1.5"/>
<line x1="424.8" y1="398.4" x2="424.8" y2="404.7" stroke="#000" stroke-width="1.15"/>
<line x1="421.05" y1="398.4" x2="428.55" y2="398.4" stroke="#000" stroke-width="1.15"/>
<line x1="421.05" y1="404.7" x2="428.55" y2="404.7" stroke="#000" stroke-width="1.15"/>
<text x="423.2" y="390.8" font-size="7" text-anchor="middle" fill="#1c1c1c" stroke="#1c1c1c" stroke-width="0.18">**</text>
<polygon points="449.5,377.3 447,381.8 452,381.8" fill="#a3164a"/>
<polygon points="447.3,385.3 444.8,389.8 449.8,389.8" fill="#a3164a"/>
<polygon points="453.3,385.3 450.8,389.8 455.8,389.8" fill="#a3164a"/>
<line x1="441.3" y1="384.8" x2="457.3" y2="384.8" stroke="#000" stroke-width="1.5"/>
<line x1="449.3" y1="381" x2="449.3" y2="388.3" stroke="#000" stroke-width="1.15"/>
<line x1="445.55" y1="381" x2="453.05" y2="381" stroke="#000" stroke-width="1.15"/>
<line x1="445.55" y1="388.3" x2="453.05" y2="388.3" stroke="#000" stroke-width="1.15"/>
<polygon points="472.5,387.2 470,382.7 475,382.7" fill="#69aa3b"/>
<polygon points="470.5,391.2 468,386.7 473,386.7" fill="#69aa3b"/>
<polygon points="473.5,393.7 471,389.2 476,389.2" fill="#69aa3b"/>
<line x1="464.5" y1="388.3" x2="480.5" y2="388.3" stroke="#000" stroke-width="1.5"/>
<line x1="472.5" y1="386.6" x2="472.5" y2="390" stroke="#000" stroke-width="1.15"/>
<line x1="468.75" y1="386.6" x2="476.25" y2="386.6" stroke="#000" stroke-width="1.15"/>
<line x1="468.75" y1="390" x2="476.25" y2="390" stroke="#000" stroke-width="1.15"/>
<text x="344.8" y="358.8" font-size="9" text-anchor="start" font-weight="bold" fill="#111" stroke="#111" stroke-width="0.18">iii</text>
<rect x="79.4" y="545.3" width="12.15" height="74.2" fill="#b50c34"/>
<rect x="91.55" y="586.6" width="12.15" height="32.9" fill="#69aa3b"/>
<line x1="85.48" y1="540" x2="85.48" y2="550.6" stroke="#000" stroke-width="1.15"/>
<line x1="82.48" y1="540" x2="88.48" y2="540" stroke="#000" stroke-width="1.15"/>
<line x1="82.48" y1="550.6" x2="88.48" y2="550.6" stroke="#000" stroke-width="1.15"/>
<line x1="97.63" y1="583.7" x2="97.63" y2="589.6" stroke="#000" stroke-width="1.15"/>
<line x1="94.63" y1="583.7" x2="100.63" y2="583.7" stroke="#000" stroke-width="1.15"/>
<line x1="94.63" y1="589.6" x2="100.63" y2="589.6" stroke="#000" stroke-width="1.15"/>
<rect x="120.1" y="540.9" width="12.15" height="78.6" fill="#b50c34"/>
<rect x="132.25" y="542.5" width="12.15" height="77" fill="#69aa3b"/>
<line x1="126.17" y1="534.9" x2="126.17" y2="547.5" stroke="#000" stroke-width="1.15"/>
<line x1="123.17" y1="534.9" x2="129.18" y2="534.9" stroke="#000" stroke-width="1.15"/>
<line x1="123.17" y1="547.5" x2="129.18" y2="547.5" stroke="#000" stroke-width="1.15"/>
<line x1="138.32" y1="534.9" x2="138.32" y2="550.8" stroke="#000" stroke-width="1.15"/>
<line x1="135.32" y1="534.9" x2="141.32" y2="534.9" stroke="#000" stroke-width="1.15"/>
<line x1="135.32" y1="550.8" x2="141.32" y2="550.8" stroke="#000" stroke-width="1.15"/>
<line x1="70.9" y1="522.9" x2="70.9" y2="620.15" stroke="#000" stroke-width="1.35"/>
<line x1="70.25" y1="619.5" x2="151" y2="619.5" stroke="#000" stroke-width="1.35"/>
<line x1="67.4" y1="526" x2="70.9" y2="526" stroke="#000" stroke-width="1.0"/>
<text transform="translate(65.2 528.99) scale(0.96 1)" font-size="8.3" text-anchor="end" fill="#1c1c1c" stroke="#1c1c1c" stroke-width="0.18">100000</text>
<line x1="67.4" y1="544.7" x2="70.9" y2="544.7" stroke="#000" stroke-width="1.0"/>
<text transform="translate(65.2 547.69) scale(0.96 1)" font-size="8.3" text-anchor="end" fill="#1c1c1c" stroke="#1c1c1c" stroke-width="0.18">80000</text>
<line x1="67.4" y1="563.5" x2="70.9" y2="563.5" stroke="#000" stroke-width="1.0"/>
<text transform="translate(65.2 566.49) scale(0.96 1)" font-size="8.3" text-anchor="end" fill="#1c1c1c" stroke="#1c1c1c" stroke-width="0.18">60000</text>
<line x1="67.4" y1="582.3" x2="70.9" y2="582.3" stroke="#000" stroke-width="1.0"/>
<text transform="translate(65.2 585.29) scale(0.96 1)" font-size="8.3" text-anchor="end" fill="#1c1c1c" stroke="#1c1c1c" stroke-width="0.18">40000</text>
<line x1="67.4" y1="600.9" x2="70.9" y2="600.9" stroke="#000" stroke-width="1.0"/>
<text transform="translate(65.2 603.89) scale(0.96 1)" font-size="8.3" text-anchor="end" fill="#1c1c1c" stroke="#1c1c1c" stroke-width="0.18">20000</text>
<line x1="67.4" y1="619.5" x2="70.9" y2="619.5" stroke="#000" stroke-width="1.0"/>
<text transform="translate(65.2 622.49) scale(0.96 1)" font-size="8.3" text-anchor="end" fill="#1c1c1c" stroke="#1c1c1c" stroke-width="0.18">0</text>
<text x="91.8" y="630.2" font-size="8" text-anchor="middle" fill="#1c1c1c" stroke="#1c1c1c" stroke-width="0.18">Isotype</text>
<text x="132.4" y="630.2" font-size="8" text-anchor="middle" fill="#1c1c1c" stroke="#1c1c1c" stroke-width="0.18">&#945;TGF-&#946;</text>
<text transform="translate(33 572.2) rotate(-90)" font-size="8.5" text-anchor="middle" fill="#1c1c1c" stroke="#1c1c1c" stroke-width="0.18" textLength="56" lengthAdjust="spacingAndGlyphs"># CFU-GM/femur</text>
<text x="97.9" y="578.9" font-size="8.5" text-anchor="middle" fill="#222" stroke="#222" stroke-width="0.18">*</text>
<text x="97.9" y="583.7" font-size="8.5" text-anchor="middle" fill="#222" stroke="#222" stroke-width="0.18">*</text>
<text x="7.5" y="516.2" font-size="10.5" text-anchor="start" font-weight="bold" fill="#111" stroke="#111" stroke-width="0.18">C</text>
<text x="28.6" y="516.2" font-size="9" text-anchor="start" font-weight="bold" fill="#111" stroke="#111" stroke-width="0.18">i</text>
<rect x="232.5" y="566.2" width="12.1" height="53.4" fill="#b50c34"/>
<rect x="244.6" y="585.5" width="12.1" height="34.1" fill="#69aa3b"/>
<line x1="238.55" y1="558.5" x2="238.55" y2="573.8" stroke="#000" stroke-width="1.15"/>
<line x1="235.55" y1="558.5" x2="241.55" y2="558.5" stroke="#000" stroke-width="1.15"/>
<line x1="235.55" y1="573.8" x2="241.55" y2="573.8" stroke="#000" stroke-width="1.15"/>
<line x1="250.65" y1="582.5" x2="250.65" y2="589.2" stroke="#000" stroke-width="1.15"/>
<line x1="247.65" y1="582.5" x2="253.65" y2="582.5" stroke="#000" stroke-width="1.15"/>
<line x1="247.65" y1="589.2" x2="253.65" y2="589.2" stroke="#000" stroke-width="1.15"/>
<rect x="276.2" y="554.2" width="12.1" height="65.4" fill="#b50c34"/>
<rect x="288.3" y="544" width="12.1" height="75.6" fill="#69aa3b"/>
<line x1="282.25" y1="548.6" x2="282.25" y2="560.6" stroke="#000" stroke-width="1.15"/>
<line x1="279.25" y1="548.6" x2="285.25" y2="548.6" stroke="#000" stroke-width="1.15"/>
<line x1="279.25" y1="560.6" x2="285.25" y2="560.6" stroke="#000" stroke-width="1.15"/>
<line x1="294.35" y1="534.5" x2="294.35" y2="554.5" stroke="#000" stroke-width="1.15"/>
<line x1="291.35" y1="534.5" x2="297.35" y2="534.5" stroke="#000" stroke-width="1.15"/>
<line x1="291.35" y1="554.5" x2="297.35" y2="554.5" stroke="#000" stroke-width="1.15"/>
<line x1="223.5" y1="523" x2="223.5" y2="620.25" stroke="#000" stroke-width="1.35"/>
<line x1="222.85" y1="619.6" x2="306.8" y2="619.6" stroke="#000" stroke-width="1.35"/>
<line x1="220" y1="525.6" x2="223.5" y2="525.6" stroke="#000" stroke-width="1.0"/>
<text transform="translate(217.8 528.59) scale(0.96 1)" font-size="8.3" text-anchor="end" fill="#1c1c1c" stroke="#1c1c1c" stroke-width="0.18">15000</text>
<line x1="220" y1="557.2" x2="223.5" y2="557.2" stroke="#000" stroke-width="1.0"/>
<text transform="translate(217.8 560.19) scale(0.96 1)" font-size="8.3" text-anchor="end" fill="#1c1c1c" stroke="#1c1c1c" stroke-width="0.18">10000</text>
<line x1="220" y1="588.6" x2="223.5" y2="588.6" stroke="#000" stroke-width="1.0"/>
<text transform="translate(217.8 591.59) scale(0.96 1)" font-size="8.3" text-anchor="end" fill="#1c1c1c" stroke="#1c1c1c" stroke-width="0.18">5000</text>
<line x1="220" y1="619.5" x2="223.5" y2="619.5" stroke="#000" stroke-width="1.0"/>
<text transform="translate(217.8 622.49) scale(0.96 1)" font-size="8.3" text-anchor="end" fill="#1c1c1c" stroke="#1c1c1c" stroke-width="0.18">0</text>
<text x="244.2" y="630.3" font-size="8" text-anchor="middle" fill="#1c1c1c" stroke="#1c1c1c" stroke-width="0.18">Isotype</text>
<text x="289" y="630.3" font-size="8" text-anchor="middle" fill="#1c1c1c" stroke="#1c1c1c" stroke-width="0.18">&#945;TGF-&#946;</text>
<text transform="translate(189.2 571.3) rotate(-90)" font-size="8.5" text-anchor="middle" fill="#1c1c1c" stroke="#1c1c1c" stroke-width="0.18" textLength="49.5" lengthAdjust="spacingAndGlyphs"># BFU-E/femur</text>
<text x="250.7" y="583.6" font-size="8.5" text-anchor="middle" fill="#222" stroke="#222" stroke-width="0.18">*</text>
<text x="183.5" y="516.2" font-size="9" text-anchor="start" font-weight="bold" fill="#111" stroke="#111" stroke-width="0.18">ii</text>
<rect x="397.2" y="563.2" width="12.35" height="56.4" fill="#b50c34"/>
<rect x="409.55" y="597" width="12.35" height="22.6" fill="#69aa3b"/>
<line x1="403.38" y1="556" x2="403.38" y2="570.2" stroke="#000" stroke-width="1.15"/>
<line x1="400.38" y1="556" x2="406.38" y2="556" stroke="#000" stroke-width="1.15"/>
<line x1="400.38" y1="570.2" x2="406.38" y2="570.2" stroke="#000" stroke-width="1.15"/>
<line x1="415.73" y1="595.1" x2="415.73" y2="598.8" stroke="#000" stroke-width="1.15"/>
<line x1="412.73" y1="595.1" x2="418.73" y2="595.1" stroke="#000" stroke-width="1.15"/>
<line x1="412.73" y1="598.8" x2="418.73" y2="598.8" stroke="#000" stroke-width="1.15"/>
<rect x="432.8" y="565.5" width="12.35" height="54.1" fill="#b50c34"/>
<rect x="445.15" y="555.7" width="12.35" height="63.9" fill="#69aa3b"/>
<line x1="438.98" y1="559.5" x2="438.98" y2="571.7" stroke="#000" stroke-width="1.15"/>
<line x1="435.98" y1="559.5" x2="441.98" y2="559.5" stroke="#000" stroke-width="1.15"/>
<line x1="435.98" y1="571.7" x2="441.98" y2="571.7" stroke="#000" stroke-width="1.15"/>
<line x1="451.33" y1="547" x2="451.33" y2="564.5" stroke="#000" stroke-width="1.15"/>
<line x1="448.33" y1="547" x2="454.33" y2="547" stroke="#000" stroke-width="1.15"/>
<line x1="448.33" y1="564.5" x2="454.33" y2="564.5" stroke="#000" stroke-width="1.15"/>
<line x1="389.8" y1="522.7" x2="389.8" y2="620.25" stroke="#000" stroke-width="1.35"/>
<line x1="389.15" y1="619.6" x2="463.7" y2="619.6" stroke="#000" stroke-width="1.35"/>
<line x1="386.3" y1="525.6" x2="389.8" y2="525.6" stroke="#000" stroke-width="1.0"/>
<text transform="translate(384 528.59) scale(0.96 1)" font-size="8.3" text-anchor="end" fill="#1c1c1c" stroke="#1c1c1c" stroke-width="0.18">8000</text>
<line x1="386.3" y1="549" x2="389.8" y2="549" stroke="#000" stroke-width="1.0"/>
<text transform="translate(384 551.99) scale(0.96 1)" font-size="8.3" text-anchor="end" fill="#1c1c1c" stroke="#1c1c1c" stroke-width="0.18">6000</text>
<line x1="386.3" y1="572.4" x2="389.8" y2="572.4" stroke="#000" stroke-width="1.0"/>
<text transform="translate(384 575.39) scale(0.96 1)" font-size="8.3" text-anchor="end" fill="#1c1c1c" stroke="#1c1c1c" stroke-width="0.18">4000</text>
<line x1="386.3" y1="596" x2="389.8" y2="596" stroke="#000" stroke-width="1.0"/>
<text transform="translate(384 598.99) scale(0.96 1)" font-size="8.3" text-anchor="end" fill="#1c1c1c" stroke="#1c1c1c" stroke-width="0.18">2000</text>
<line x1="386.3" y1="619.5" x2="389.8" y2="619.5" stroke="#000" stroke-width="1.0"/>
<text transform="translate(384 622.49) scale(0.96 1)" font-size="8.3" text-anchor="end" fill="#1c1c1c" stroke="#1c1c1c" stroke-width="0.18">0</text>
<text x="409.8" y="630.3" font-size="8" text-anchor="middle" fill="#1c1c1c" stroke="#1c1c1c" stroke-width="0.18">Isotype</text>
<text x="445.6" y="630.3" font-size="8" text-anchor="middle" fill="#1c1c1c" stroke="#1c1c1c" stroke-width="0.18">&#945;TGF-&#946;</text>
<text transform="translate(359.6 570.6) rotate(-90)" font-size="8.5" text-anchor="middle" fill="#1c1c1c" stroke="#1c1c1c" stroke-width="0.18" textLength="68.5" lengthAdjust="spacingAndGlyphs"># CFU-GEMM/femur</text>
<text x="415.9" y="590.8" font-size="8.5" text-anchor="middle" fill="#222" stroke="#222" stroke-width="0.18">*</text>
<text x="415.9" y="596.2" font-size="8.5" text-anchor="middle" fill="#222" stroke="#222" stroke-width="0.18">*</text>
<text x="344.3" y="516.2" font-size="9" text-anchor="start" font-weight="bold" fill="#111" stroke="#111" stroke-width="0.18">iii</text>
<rect x="465.5" y="564.8" width="8.2" height="8.1" fill="#b50c34"/>
<rect x="465.5" y="581.8" width="8.2" height="8.1" fill="#69aa3b"/>
<text transform="translate(477 571.7) scale(1.03 1)" font-size="8" text-anchor="start" fill="#1c1c1c" stroke="#1c1c1c" stroke-width="0.18"><tspan font-style="italic">pitp&#945;/&#946;</tspan>WT</text>
<text transform="translate(477 589.2) scale(1.0 1)" font-size="8" text-anchor="start" fill="#1c1c1c" stroke="#1c1c1c" stroke-width="0.18"><tspan font-style="italic">pitp&#945;</tspan><tspan font-size="5.76" dy="-3.2" letter-spacing="0.3">-/-</tspan><tspan dy="3.2" font-style="italic">/&#946;</tspan><tspan font-size="5.76" dy="-3.2" letter-spacing="0.3">-/-</tspan></text>
<rect x="0" y="0" width="520" height="639" fill="none" stroke="#000" stroke-width="2.7"/>
</svg>
</body></html>
